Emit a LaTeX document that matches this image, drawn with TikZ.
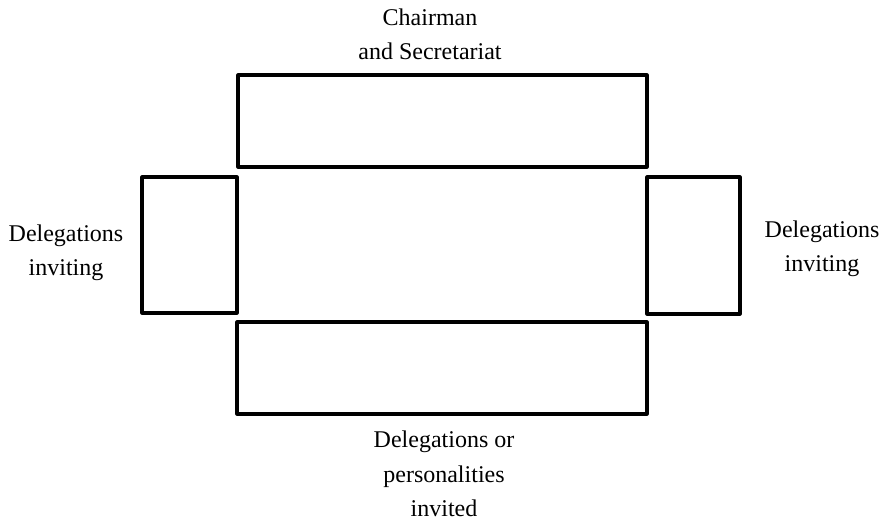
\documentclass[tikz,border=0pt]{standalone}
\usepackage{fontspec}
\setmainfont{Liberation Serif}
\begin{document}
\begin{tikzpicture}[x=1pt,y=1pt,
  table/.style={draw=black, line width=3.1pt, rectangle, inner sep=0pt, outer sep=0pt, line join=round},
  caption/.style={align=center, anchor=base, inner sep=0pt,
    font=\fontsize{24}{34.5}\selectfont}]
  \useasboundingbox (0,0) rectangle (884,522);
  % tables (y measured from the bottom edge)
  \node[table, minimum width=409pt, minimum height=92pt] (head) at (442.5,401) {};
  \node[table, minimum width=95pt, minimum height=136pt] (left) at (189.5,277) {};
  \node[table, minimum width=93pt, minimum height=137pt] (right) at (693.5,276.5) {};
  \node[table, minimum width=410pt, minimum height=92pt] (foot) at (442,154) {};
  % seating labels, placed by the baseline of their last line
  \node[caption] (headlabel) at (430,462) {Chairman\\and Secretariat};
  \node[caption] (leftlabel) at (66,246) {Delegations\\inviting};
  \node[caption] (rightlabel) at (822,250) {Delegations\\inviting};
  \node[caption] (footlabel) at (444,5) {Delegations or\\personalities\\invited};
\end{tikzpicture}
\end{document}
